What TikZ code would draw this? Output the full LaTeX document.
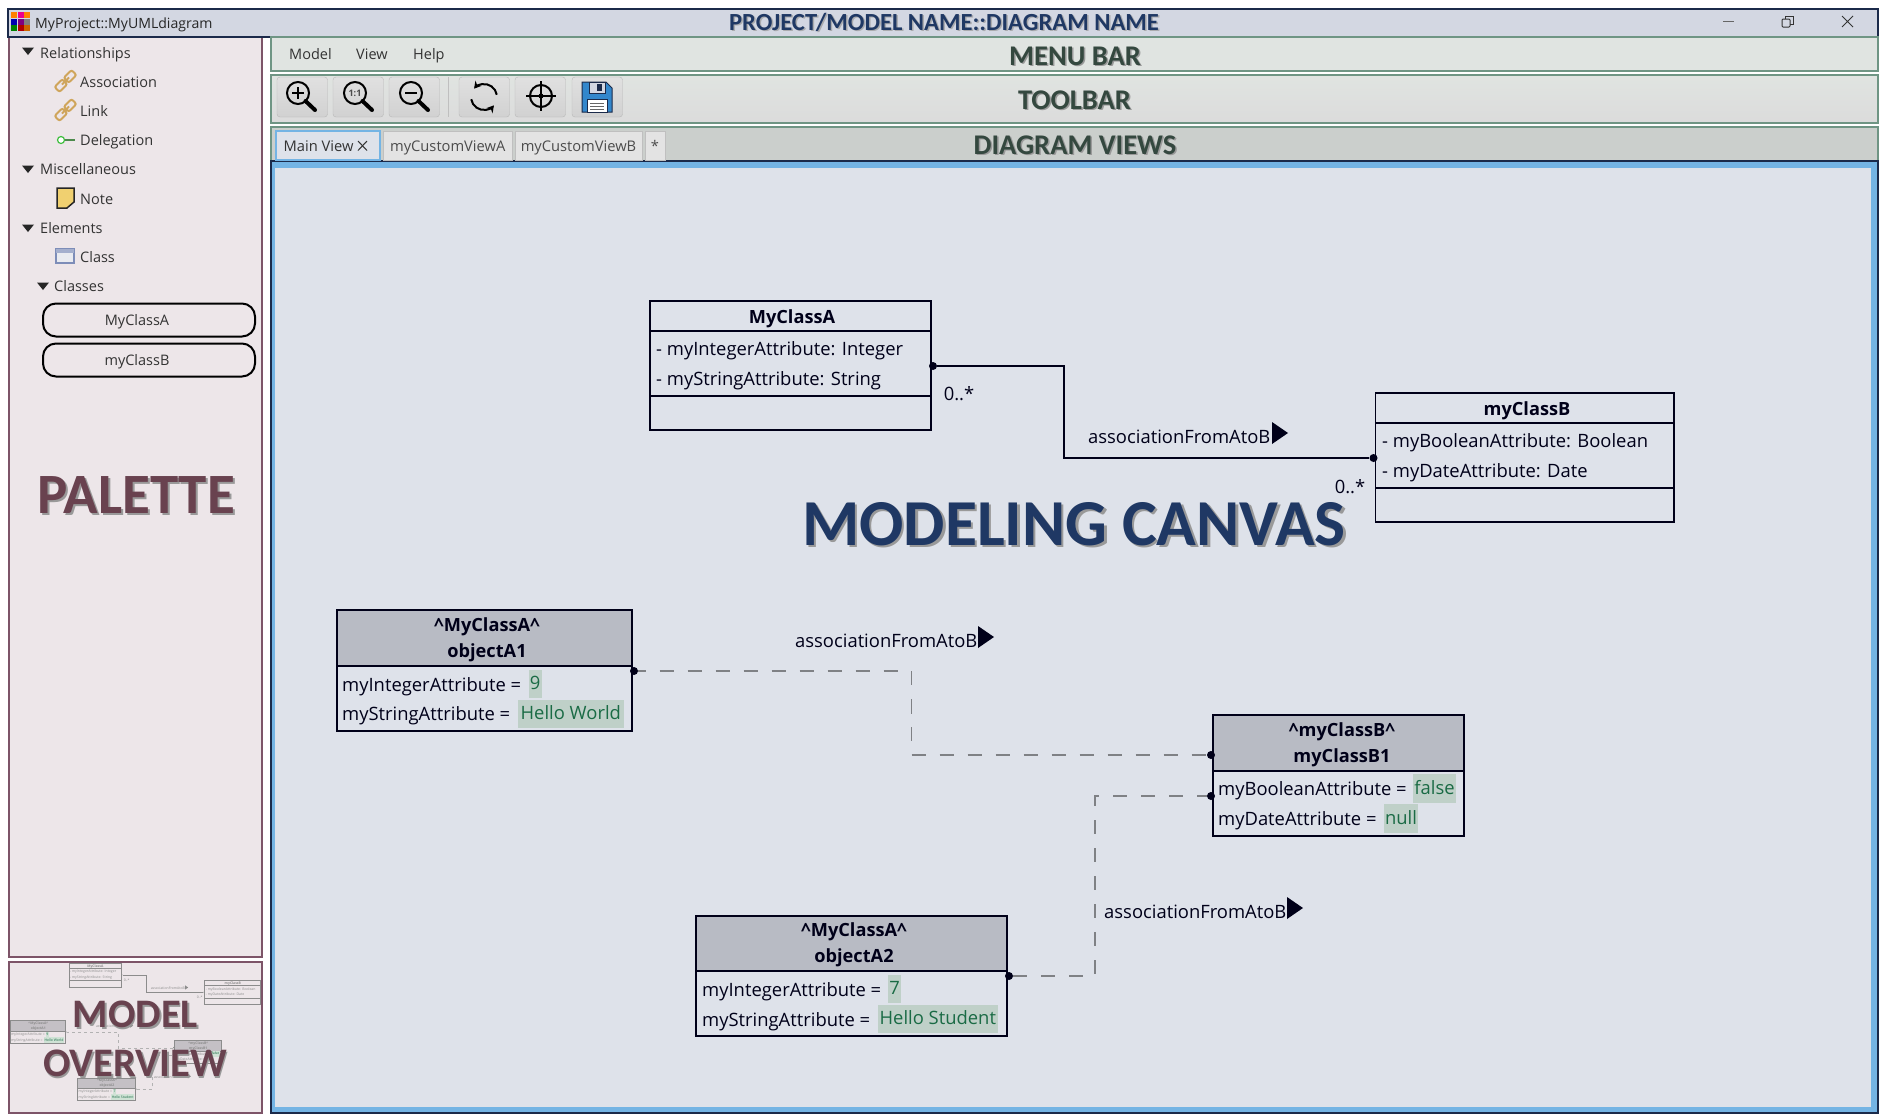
\documentclass[tikz,border=0pt]{standalone}
\usepackage{fontspec}
\setmainfont{Open Sans}
\newfontfamily\bannerfont{Carlito}
\usetikzlibrary{arrows.meta}
\definecolor{navyline}{HTML}{1B2A4A}
\definecolor{titlebg}{HTML}{D3D7E2}
\definecolor{plumline}{HTML}{7D5468}
\definecolor{plumbg}{HTML}{EDE6E9}
\definecolor{plumtext}{HTML}{69424F}
\definecolor{sageline}{HTML}{6F9584}
\definecolor{menubg}{HTML}{E0E4E1}
\definecolor{tabsbg}{HTML}{CBCFCC}
\definecolor{sagetext}{HTML}{34483F}
\definecolor{canvasbg}{HTML}{DEE2EA}
\definecolor{canvasblue}{HTML}{74B4E4}
\definecolor{canvastext}{HTML}{1F3864}
\definecolor{chaintan}{HTML}{CFA55B}
\definecolor{classicon}{HTML}{7D8DB8}
\definecolor{noteyellow}{HTML}{F0D070}
\colorlet{umlink}{black!90!blue}
\definecolor{umlhead}{HTML}{B8BBC4}
\definecolor{umlvalbg}{HTML}{BFD0C8}
\definecolor{umlval}{HTML}{1A6B45}
\colorlet{umldash}{black!43!canvasbg}
\tikzset{
    umlline/.style={line width=1.5pt},
    dashline/.style={line width=1.5pt, dash pattern=on 14pt off 14pt},
    umlfont/.style={font=\fontsize{18.4}{26}\selectfont},
    boxsize/.style 2 args={minimum width=#1 pt, minimum height=#2 pt},
    umlbox/.style={draw=umlink, umlline, inner sep=0, outer sep=0},
    classhead/.style={umlbox},
    objecthead/.style={umlbox, fill=umlhead},
    classtitle/.style={text=umlink, inner sep=0, text height=13pt, text depth=2pt, font=\fontsize{18.2}{26}\selectfont\bfseries},
    objecttitle/.style={text=umlink, inner sep=0, align=center, font=\fontsize{18.2}{26}\selectfont\bfseries},
    umltext/.style={umlfont, text=umlink, anchor=base west, inner sep=0, yshift=-6.5pt},
    valuebox/.style={fill=umlvalbg, text=umlval, umlfont, inner sep=0, outer sep=0, text height=13pt, text depth=2pt},
    portdot/.style={circle, fill=umlink, inner sep=0, minimum size=8pt},
    sidetext/.style={font=\fontsize{14.5}{18}\selectfont, text=black!80, anchor=base west, inner sep=0, yshift=-5.5pt},
    pill/.style={draw=black, line width=2pt, rounded corners=13pt, fill=plumbg, minimum width=212pt, minimum height=33pt, inner sep=0, text height=13pt, text depth=2pt, font=\fontsize{14.5}{18}\selectfont, text=black!80},
    toolbutton/.style={draw=black!28, rounded corners=3pt, top color=black!12, bottom color=black!18},
    tabbox/.style={draw=black!25, fill=black!11, inner sep=0, minimum height=29pt, text height=13pt, text depth=2pt, font=\fontsize{14.7}{18}\selectfont, text=black!70},
    bannertext/.style={font=\bannerfont\bfseries\fontsize{#1}{#1}\selectfont, inner sep=0},
    sideicon/.style={line width=1.2pt}
}
\newcommand{\umlview}{
    \node (classAhead) at (790.5,316)[classhead, boxsize={281}{30}]{};
    \node (classAname) at (792,318)[classtitle]{MyClassA};
    \node (classAattr) at (790.5,363.5)[umlbox, boxsize={281}{65}]{};
    \node (classAops) at (790.5,413)[umlbox, boxsize={281}{34}]{};
    \node (classAint) at (656,349)[umltext]{- myIntegerAttribute: Integer};
    \node (classAstr) at (656,379)[umltext]{- myStringAttribute: String};
    \node (classBhead) at (1524.75,408)[classhead, boxsize={298.5}{30}]{};
    \node (classBname) at (1527,410)[classtitle]{myClassB};
    \node (classBattr) at (1524.75,455.5)[umlbox, boxsize={298.5}{65}]{};
    \node (classBops) at (1524.75,505)[umlbox, boxsize={298.5}{34}]{};
    \node (classBbool) at (1382,441)[umltext]{- myBooleanAttribute: Boolean};
    \node (classBdate) at (1382,471)[umltext]{- myDateAttribute: Date};
    \node (objAonehead) at (484.5,638)[objecthead, boxsize={295}{56}]{};
    \node (objAonename) at (487,640)[objecttitle]{\textasciicircum MyClassA\textasciicircum\\objectA1};
    \node (objAonebody) at (484.5,698.5)[umlbox, boxsize={295}{65}]{};
    \node (objAoneint) at (342,685)[umltext]{myIntegerAttribute =};
    \node (objAonestr) at (342,714)[umltext]{myStringAttribute =};
    \node (objAoneintval) at (535.25,684)[valuebox, boxsize={13.5}{28}]{9};
    \node (objAonestrval) at (570.8,714)[valuebox, boxsize={105.6}{28}]{Hello World};
    \node (objAtwohead) at (851.5,943.5)[objecthead, boxsize={311}{55}]{};
    \node (objAtwoname) at (854,945)[objecttitle]{\textasciicircum MyClassA\textasciicircum\\objectA2};
    \node (objAtwobody) at (851.5,1003.5)[umlbox, boxsize={311}{65}]{};
    \node (objAtwoint) at (702,990)[umltext]{myIntegerAttribute =};
    \node (objAtwostr) at (702,1020)[umltext]{myStringAttribute =};
    \node (objAtwointval) at (894.5,989)[valuebox, boxsize={13}{28}]{7};
    \node (objAtwostrval) at (937.8,1019)[valuebox, boxsize={120.4}{28}]{Hello Student};
    \node (objBhead) at (1338.5,743)[objecthead, boxsize={251}{56}]{};
    \node (objBname) at (1342,745)[objecttitle]{\textasciicircum myClassB\textasciicircum\\myClassB1};
    \node (objBbody) at (1338.5,803.5)[umlbox, boxsize={251}{65}]{};
    \node (objBbool) at (1218,789)[umltext]{myBooleanAttribute =};
    \node (objBdate) at (1218,819)[umltext]{myDateAttribute =};
    \node (objBboolval) at (1434.5,788.5)[valuebox, boxsize={43}{29}]{false};
    \node (objBdateval) at (1401,818.5)[valuebox, boxsize={34}{29}]{null};
    \node (portA) at (933,366)[portdot]{};
    \node (portB) at (1373.5,458)[portdot]{};
    \node (portAone) at (634,671)[portdot]{};
    \node (portBone) at (1211,755)[portdot]{};
    \node (portBtwo) at (1211,796)[portdot]{};
    \node (portAtwo) at (1009,976)[portdot]{};
    \coordinate (bendAB) at (1064,412);
    \coordinate (bendAone) at (911.5,713);
    \coordinate (bendAtwo) at (1095,886);
    \draw [umlline, draw=umlink] (portA) -| (bendAB) |- (portB);
    \draw [dashline, dash phase=6.5pt, draw=umldash] (portAone) -| (bendAone) |- (portBone);
    \draw [dashline, draw=umldash] (portAtwo) -| (bendAtwo) |- (portBtwo);
    \node (multA) at (959,394)[umlfont, text=umlink, inner sep=0]{0..*};
    \node (multB) at (1350,487)[umlfont, text=umlink, inner sep=0]{0..*};
    \node (assocAB) at (1088,437)[umltext]{associationFromAtoB};
    \node (assocAone) at (795,641)[umltext]{associationFromAtoB};
    \node (assocAtwo) at (1104,912)[umltext]{associationFromAtoB};
    \fill [umlink] (1272,422)--(1288,433)--(1272,444)--cycle;
    \fill [umlink] (978,626)--(994,637)--(978,648)--cycle;
    \fill [umlink] (1287,897)--(1303,908)--(1287,919)--cycle;
}
\newcommand{\zoomicon}[2]{
    \draw [line width=2pt] (#1,93) circle (11);
    \draw [line width=4pt, line cap=round] (#1+7.5,101)--(#1+17,110);
    #2
}
\newcommand{\chainicon}[2]{
    \begin{scope}[shift={(#1,#2)}, rotate=45]
        \draw [line width=2pt, draw=chaintan, rounded corners=2pt] (-12,-3.5) rectangle (-1,3.5);
        \draw [line width=2pt, draw=chaintan, rounded corners=2pt] (1,-3.5) rectangle (12,3.5);
        \draw [line width=2pt, draw=chaintan] (-5,0)--(5,0);
    \end{scope}
}
\begin{document}
\begin{tikzpicture}[x=1pt, y=-1pt]
    \useasboundingbox (0,0) rectangle (1889,1117);
    \fill [white] (0,0) rectangle (1889,1117);

    \draw [line width=2pt, draw=plumline, fill=plumbg] (9,37) rectangle (262,957);
    \draw [line width=2pt, draw=plumline, fill=plumbg] (9,962) rectangle (262,1113);
    \draw [line width=2pt, draw=navyline, fill=titlebg] (8,9) rectangle (1878,37);
    \draw [line width=2pt, draw=sageline, fill=menubg] (271,37) rectangle (1878,71);
    \draw [line width=2pt, draw=sageline, top color=menubg, bottom color=black!14] (271,75) rectangle (1878,123);
    \draw [line width=2pt, draw=sageline, fill=tabsbg] (271,127) rectangle (1878,161);
    \draw [line width=1.5pt, draw=navyline, fill=canvasblue] (271,161) rectangle (1878,1113);
    \fill [canvasbg] (275,168) rectangle (1871,1107);

    \foreach \col/\row/\tone in {0/0/orange, 1/0/magenta, 2/0/orange, 0/1/blue!70!black, 1/1/violet, 2/1/gray, 0/2/green!50!black, 1/2/red!70!black, 2/2/orange!80!black}
        \fill [\tone] (11+\col*6.5,12+\row*6.5) rectangle +(6,6);
    \node (appname) at (35,23)[sidetext, font=\fontsize{14.1}{18}\selectfont, text=black!85]{MyProject::MyUMLdiagram};
    \draw [line width=1pt, black!60] (1723,21)--(1734,21);
    \draw [line width=1pt, black!80, rounded corners=1pt] (1782,19) rectangle (1790,27);
    \draw [line width=1pt, black!80] (1785,19)--(1785,16.5)--(1793,16.5)--(1793,24)--(1790,24);
    \draw [line width=1pt, black!80] (1842,16)--(1853,27) (1853,16)--(1842,27);

    \node (titleshadow) at (945.5,23.5)[bannertext=24.6, text=black!40, opacity=.7]{PROJECT/MODEL NAME::DIAGRAM NAME};
    \node (titlelabel) at (944,22.5)[bannertext=24.6, text=canvastext]{PROJECT/MODEL NAME::DIAGRAM NAME};
    \node (menushadow) at (1076.5,57.5)[bannertext=28.5, text=black!40]{MENU BAR};
    \node (menulabel) at (1075,56)[bannertext=28.5, text=sagetext]{MENU BAR};
    \node (toolshadow) at (1076,101.5)[bannertext=28.5, text=black!40]{TOOLBAR};
    \node (toollabel) at (1074.5,100)[bannertext=28.5, text=sagetext]{TOOLBAR};
    \node (viewsshadow) at (1076.5,146.5)[bannertext=28.5, text=black!40]{DIAGRAM VIEWS};
    \node (viewslabel) at (1075,145)[bannertext=28.5, text=sagetext]{DIAGRAM VIEWS};

    \node (menumodel) at (289,54)[sidetext]{Model};
    \node (menuview) at (356,54)[sidetext]{View};
    \node (menuhelp) at (413,54)[sidetext]{Help};

    \foreach \left in {277,333,389,459,515,572}
        \draw [toolbutton] (\left,77) rectangle +(50.5,40);
    \draw [black!25] (448,77)--(448,117);
    \zoomicon{298}{\draw [line width=2pt] (292,93)--(304,93) (298,87)--(298,99);}
    \zoomicon{355}{\node (oneone) at (355,93)[inner sep=0, font=\fontsize{9}{9}\selectfont\bfseries, text=black!70]{1:1};}
    \zoomicon{411}{\draw [line width=2pt] (405,93)--(417,93);}
    \draw [line width=2pt, -{Stealth[length=7pt, width=8pt]}] (484,97) ++(-10:13) arc [start angle=-10, end angle=-140, radius=13];
    \draw [line width=2pt, -{Stealth[length=7pt, width=8pt]}] (484,97) ++(170:13) arc [start angle=170, end angle=40, radius=13];
    \draw [line width=2pt] (541,96) circle (11);
    \draw [line width=2pt] (526,96)--(556,96) (541,81)--(541,111);
    \fill (541,96) circle (2.5);
    \filldraw [line width=1pt, draw=navyline, fill=blue!45!cyan!60!gray] (582,82)--(606,82)--(612,88)--(612,112)--(582,112)--cycle;
    \filldraw [line width=.8pt, draw=navyline, fill=titlebg] (589,82) rectangle (605,93);
    \fill [navyline] (597,84) rectangle (602,91);
    \filldraw [line width=.8pt, draw=navyline, fill=white] (587,99) rectangle (607,112);
    \draw [line width=.8pt, black!60] (590,103)--(604,103) (590,106)--(604,106) (590,109)--(604,109);

    \node (tabmain) at (328,145.5)[tabbox, fill=canvasbg, draw=canvasblue, line width=1.2pt, minimum width=104pt]{};
    \node (tabmaintext) at (283.5,146)[sidetext, font=\fontsize{14.7}{18}\selectfont]{Main View};
    \draw [line width=1pt, black!80] (358,141)--(367,150.5) (367,141)--(358,150.5);
    \node (tabviewA) at (447.75,145.5)[tabbox, minimum width=128.5pt]{myCustomViewA};
    \node (tabviewB) at (578.5,145.5)[tabbox, minimum width=127pt]{myCustomViewB};
    \node (tabstar) at (655,145.5)[tabbox, minimum width=20pt]{*};

    \foreach \y in {51,169,228}
        \fill [black!85] (22,\y-3.5)--(34,\y-3.5)--(28,\y+4)--cycle;
    \fill [black!85] (37,282.5)--(49,282.5)--(43,290)--cycle;
    \node (palrel) at (40,53)[sidetext]{Relationships};
    \node (palassoc) at (80,82)[sidetext]{Association};
    \node (pallink) at (80,111)[sidetext]{Link};
    \node (paldeleg) at (80,140)[sidetext]{Delegation};
    \node (palmisc) at (40,169)[sidetext]{Miscellaneous};
    \node (palnote) at (80,199)[sidetext]{Note};
    \node (palelem) at (40,228)[sidetext]{Elements};
    \node (palclass) at (80,257)[sidetext]{Class};
    \node (palclasses) at (54,286)[sidetext]{Classes};
    \chainicon{65.5}{81}
    \chainicon{65.5}{110}
    \draw [sideicon, draw=green!50!gray, fill=white] (61,140) circle (3.5);
    \draw [sideicon, draw=black!40!green!40!gray] (64.5,140)--(75,140);
    \filldraw [line width=1.5pt, draw=black!85, fill=noteyellow] (57,188)--(74,188)--(74,202)--(67,208)--(57,208)--cycle;
    \filldraw [line width=1.2pt, draw=classicon, fill=titlebg!50!white] (56,249) rectangle (74,263);
    \fill [classicon!70!white] (56,249) rectangle (74,253);
    \node (pillA) at (149,320)[pill]{MyClassA\kern24pt};
    \node (pillB) at (149,360)[pill]{myClassB\kern24pt};

    \node (paletteshadow) at (138,497)[bannertext=57, text=black!40]{PALETTE};
    \node (palettelabel) at (136,495)[bannertext=57, text=plumtext]{PALETTE};

    \begin{scope}
        \clip (10,963) rectangle (261,1112);
        \begin{scope}[shift={(-52.7,906.5)}, scale=0.187, transform shape, name prefix=over,
                umlline/.style={line width=.35pt}, dashline/.style={line width=.35pt, dash pattern=on 3pt off 3pt}]
            \colorlet{umlink}{black!45}
            \colorlet{umldash}{black!30}
            \definecolor{umlhead}{HTML}{C4C0C5}
            \definecolor{umlvalbg}{HTML}{CFE2D5}
            \umlview
        \end{scope}
    \end{scope}
    \node (modelshadow) at (137,1016)[bannertext=40.5, text=black!40]{MODEL};
    \node (modellabel) at (135.5,1014.5)[bannertext=40.5, text=plumtext]{MODEL};
    \node (overviewshadow) at (136.5,1065)[bannertext=40.5, text=black!40]{OVERVIEW};
    \node (overviewlabel) at (135,1063.5)[bannertext=40.5, text=plumtext]{OVERVIEW};

    \umlview
    \node (canvasshadow) at (1076.5,526.5)[bannertext=65.6, text=black!40]{MODELING CANVAS};
    \node (canvaslabel) at (1074,524)[bannertext=65.6, text=canvastext]{MODELING CANVAS};
\end{tikzpicture}
\end{document}
